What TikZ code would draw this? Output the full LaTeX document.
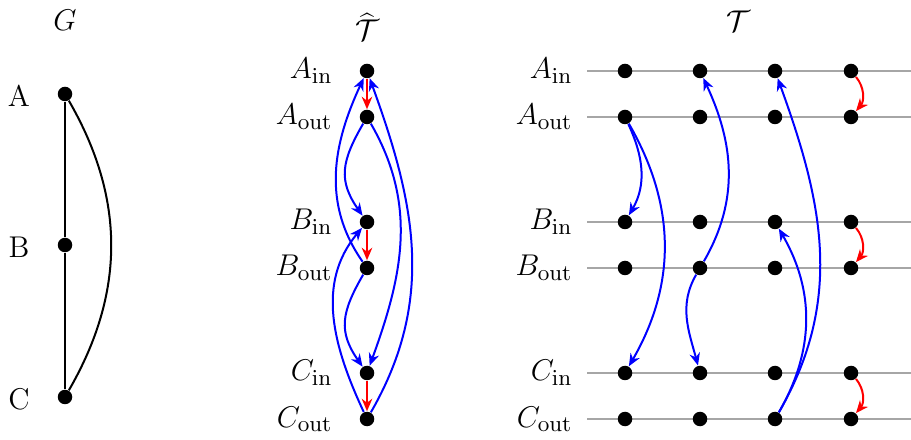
\documentclass[tikz,border=0pt]{standalone}
\usetikzlibrary{arrows.meta}
\tikzset{
  vtx/.style={circle,fill=black,inner sep=0pt,minimum size=5.8pt},
  lbl/.style={anchor=east,inner sep=0pt,font=\fontsize{13}{15}\selectfont},
  glbl/.style={inner sep=0pt,font=\fontsize{12}{14}\selectfont},
  ttl/.style={inner sep=0pt,font=\fontsize{13}{15}\selectfont},
  blu/.style={blue,line width=0.8pt,-{Stealth[length=5pt,width=4.2pt]}},
  rd/.style={red,line width=0.8pt,-{Stealth[length=5pt,width=4.2pt]}},
  row/.style={gray!70,line width=0.5pt},
}
\begin{document}
\begin{tikzpicture}[x=0.4pt,y=0.4pt]
  \useasboundingbox (0,0) rectangle (911,439);
  % the graph G
  \node[ttl] (gT) at (65,419) {$G$};
  \node[vtx] (gA) at (65,345) {};
  \node[vtx] (gB) at (65,194) {};
  \node[vtx] (gC) at (65,42) {};
  \node[glbl] (gAl) at (19,343) {A};
  \node[glbl] (gBl) at (19,192) {B};
  \node[glbl] (gCl) at (19,40) {C};
  \draw[line width=0.8pt] (gA) -- (gB) -- (gC);
  \draw[line width=0.8pt] (gA) to[out=-60,in=60] (gC);
  % titles
  \node[ttl] (hT) at (367,412) {$\widehat{\mathcal{T}}$};
  \node[ttl] (tT) at (738,418) {$\mathcal{T}$};
  % rows
  \foreach \r/\y/\t in {Ain/368/A_{\mathrm{in}},Aout/322/A_{\mathrm{out}},Bin/217/B_{\mathrm{in}},
                        Bout/171/B_{\mathrm{out}},Cin/66/C_{\mathrm{in}},Cout/20/C_{\mathrm{out}}}{
    \node[lbl] (hl\r) at (333,\y) {$\t$};
    \node[vtx] (h\r) at (367,\y) {};
    \node[lbl] (tl\r) at (573,\y) {$\t$};
    \coordinate (s\r) at (587,\y);
    \coordinate (e\r) at (911,\y);
    \draw[row] (s\r) -- (e\r);
    \foreach \c/\x in {1/625,2/700,3/775,4/851}
      \node[vtx] (t\c\r) at (\x,\y) {};
  }
  % T hat
  \foreach \a/\b in {Ain/Aout,Bin/Bout,Cin/Cout}
    \draw[rd] (h\a) -- (h\b);
  \draw[blu] (hAout) to[out=240,in=125,looseness=1.2] (hBin);
  \draw[blu] (hBout) to[out=240,in=125,looseness=1.2] (hCin);
  \draw[blu] (hAout) to[out=-60,in=70] (hCin);
  \draw[blu] (hCout) to[out=60,in=-70] (hAin);
  \draw[blu] (hBout) to[out=125,in=245] (hAin);
  \draw[blu] (hCout) to[out=115,in=230] (hBin);
  % T
  \draw[blu] (t1Aout) to[out=-65,in=60] (t1Bin);
  \draw[blu] (t1Aout) to[out=-60,in=60] (t1Cin);
  \draw[blu] (t2Bout) to[out=60,in=-65] (t2Ain);
  \draw[blu] (t2Bout) to[out=240,in=105] (t2Cin);
  \draw[blu] (t3Cout) to[out=60,in=-60] (t3Bin);
  \draw[blu] (t3Cout) to[out=60,in=-70] (t3Ain);
  \foreach \a/\b in {Ain/Aout,Bin/Bout,Cin/Cout}
    \draw[rd] (t4\a) to[out=-50,in=50] (t4\b);
\end{tikzpicture}
\end{document}
